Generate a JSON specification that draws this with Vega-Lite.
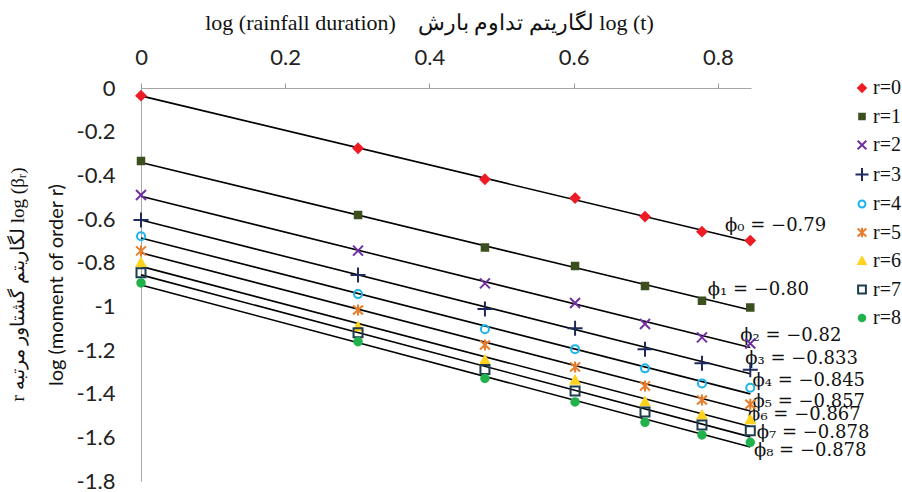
{
  "$schema": "https://vega.github.io/schema/vega-lite/v6.json",
  "width": 610,
  "height": 393,
  "autosize": {"type": "none"},
  "padding": {"left": 141, "top": 88, "right": 151, "bottom": 11},
  "background": "white",
  "title": {
    "text": "r  لگاریتم گشتاور مرتبه  log (βᵣ)",
    "orient": "left",
    "anchor": "middle",
    "font": "Liberation Serif",
    "fontSize": 19,
    "fontWeight": "normal",
    "color": "#111",
    "offset": 8,
    "dy": -10
  },
  "datasets": {
    "pts": [
      {"r": "r=0", "x": 0, "y": -0.035}, {"r": "r=0", "x": 0.301, "y": -0.276}, {"r": "r=0", "x": 0.477, "y": -0.418}, {"r": "r=0", "x": 0.602, "y": -0.504}, {"r": "r=0", "x": 0.699, "y": -0.589}, {"r": "r=0", "x": 0.778, "y": -0.658}, {"r": "r=0", "x": 0.845, "y": -0.699},
      {"r": "r=1", "x": 0, "y": -0.334}, {"r": "r=1", "x": 0.301, "y": -0.582}, {"r": "r=1", "x": 0.477, "y": -0.73}, {"r": "r=1", "x": 0.602, "y": -0.815}, {"r": "r=1", "x": 0.699, "y": -0.907}, {"r": "r=1", "x": 0.778, "y": -0.974}, {"r": "r=1", "x": 0.845, "y": -1.005},
      {"r": "r=2", "x": 0, "y": -0.49}, {"r": "r=2", "x": 0.301, "y": -0.745}, {"r": "r=2", "x": 0.477, "y": -0.895}, {"r": "r=2", "x": 0.602, "y": -0.985}, {"r": "r=2", "x": 0.699, "y": -1.081}, {"r": "r=2", "x": 0.778, "y": -1.142}, {"r": "r=2", "x": 0.845, "y": -1.17},
      {"r": "r=3", "x": 0, "y": -0.605}, {"r": "r=3", "x": 0.301, "y": -0.857}, {"r": "r=3", "x": 0.477, "y": -1.012}, {"r": "r=3", "x": 0.602, "y": -1.1}, {"r": "r=3", "x": 0.699, "y": -1.197}, {"r": "r=3", "x": 0.778, "y": -1.261}, {"r": "r=3", "x": 0.845, "y": -1.29},
      {"r": "r=4", "x": 0, "y": -0.679}, {"r": "r=4", "x": 0.301, "y": -0.944}, {"r": "r=4", "x": 0.477, "y": -1.105}, {"r": "r=4", "x": 0.602, "y": -1.196}, {"r": "r=4", "x": 0.699, "y": -1.284}, {"r": "r=4", "x": 0.778, "y": -1.353}, {"r": "r=4", "x": 0.845, "y": -1.373},
      {"r": "r=5", "x": 0, "y": -0.746}, {"r": "r=5", "x": 0.301, "y": -1.017}, {"r": "r=5", "x": 0.477, "y": -1.177}, {"r": "r=5", "x": 0.602, "y": -1.278}, {"r": "r=5", "x": 0.699, "y": -1.365}, {"r": "r=5", "x": 0.778, "y": -1.429}, {"r": "r=5", "x": 0.845, "y": -1.448},
      {"r": "r=6", "x": 0, "y": -0.8}, {"r": "r=6", "x": 0.301, "y": -1.093}, {"r": "r=6", "x": 0.477, "y": -1.246}, {"r": "r=6", "x": 0.602, "y": -1.338}, {"r": "r=6", "x": 0.699, "y": -1.437}, {"r": "r=6", "x": 0.778, "y": -1.498}, {"r": "r=6", "x": 0.845, "y": -1.52},
      {"r": "r=7", "x": 0, "y": -0.846}, {"r": "r=7", "x": 0.301, "y": -1.121}, {"r": "r=7", "x": 0.477, "y": -1.289}, {"r": "r=7", "x": 0.602, "y": -1.388}, {"r": "r=7", "x": 0.699, "y": -1.484}, {"r": "r=7", "x": 0.778, "y": -1.544}, {"r": "r=7", "x": 0.845, "y": -1.57},
      {"r": "r=8", "x": 0, "y": -0.893}, {"r": "r=8", "x": 0.301, "y": -1.162}, {"r": "r=8", "x": 0.477, "y": -1.33}, {"r": "r=8", "x": 0.602, "y": -1.438}, {"r": "r=8", "x": 0.699, "y": -1.531}, {"r": "r=8", "x": 0.778, "y": -1.589}, {"r": "r=8", "x": 0.845, "y": -1.623}
    ],
    "fit": [
      {"r": "r=0", "x": 0, "y": -0.036}, {"r": "r=0", "x": 0.845, "y": -0.704},
      {"r": "r=1", "x": 0, "y": -0.341}, {"r": "r=1", "x": 0.845, "y": -1.017},
      {"r": "r=2", "x": 0, "y": -0.496}, {"r": "r=2", "x": 0.845, "y": -1.189},
      {"r": "r=3", "x": 0, "y": -0.605}, {"r": "r=3", "x": 0.845, "y": -1.309},
      {"r": "r=4", "x": 0, "y": -0.687}, {"r": "r=4", "x": 0.845, "y": -1.401},
      {"r": "r=5", "x": 0, "y": -0.755}, {"r": "r=5", "x": 0.845, "y": -1.479},
      {"r": "r=6", "x": 0, "y": -0.817}, {"r": "r=6", "x": 0.845, "y": -1.55},
      {"r": "r=7", "x": 0, "y": -0.856}, {"r": "r=7", "x": 0.845, "y": -1.598},
      {"r": "r=8", "x": 0, "y": -0.902}, {"r": "r=8", "x": 0.845, "y": -1.644}
    ],
    "lab": [
      {"label": "ϕ₀ = −0.79", "x": 0.81, "y": -0.632},
      {"label": "ϕ₁ = −0.80", "x": 0.786, "y": -0.925},
      {"label": "ϕ₂ = −0.82", "x": 0.831, "y": -1.136},
      {"label": "ϕ₃ = −0.833", "x": 0.838, "y": -1.241},
      {"label": "ϕ₄ = −0.845", "x": 0.848, "y": -1.342},
      {"label": "ϕ₅ = −0.857", "x": 0.848, "y": -1.438},
      {"label": "ϕ₆ = −0.867", "x": 0.842, "y": -1.498},
      {"label": "ϕ₇ = −0.878", "x": 0.854, "y": -1.58},
      {"label": "ϕ₈ = −0.878", "x": 0.85, "y": -1.663}
    ]
  },
  "encoding": {
    "x": {
      "field": "x",
      "type": "quantitative",
      "scale": {"domain": [0, 0.846], "nice": false, "zero": false},
      "axis": {
        "orient": "top",
        "values": [0, 0.2, 0.4, 0.6, 0.8],
        "format": "~g",
        "title": "log (rainfall duration)\u00a0\u00a0\u00a0 لگاریتم تداوم بارش log (t)",
        "titleFont": "Liberation Serif",
        "titleFontSize": 22,
        "titleFontWeight": "normal",
        "titleColor": "#111",
        "titleX": 288,
        "titleY": -59,
        "titleAlign": "center",
        "titleBaseline": "alphabetic",
        "labelFont": "Lato",
        "labelFontSize": 22,
        "labelColor": "#222",
        "labelPadding": 14,
        "tickSize": 5,
        "tickColor": "#999",
        "domainColor": "#a6a6a6",
        "labelFlush": false,
        "labelOverlap": false
      }
    },
    "y": {
      "field": "y",
      "type": "quantitative",
      "scale": {"domain": [-1.8, 0], "nice": false, "zero": false},
      "axis": {
        "values": [0, -0.2, -0.4, -0.6, -0.8, -1, -1.2, -1.4, -1.6, -1.8],
        "labelExpr": "datum.value == 0 ? '0' : '-' + format(-datum.value, '~g')",
        "title": "log (moment of order r)",
        "titleFont": "Lato",
        "titleFontSize": 20,
        "titleFontWeight": "normal",
        "titleColor": "#111",
        "titlePadding": 10,
        "labelFont": "Lato",
        "labelFontSize": 22,
        "labelColor": "#222",
        "labelPadding": 26,
        "ticks": false,
        "domainColor": "#a6a6a6",
        "labelFlush": false,
        "labelOverlap": false
      }
    }
  },
  "layer": [
    {
      "data": {"name": "lab"},
      "mark": {"type": "text", "align": "left", "baseline": "middle", "font": "DejaVu Serif", "fontSize": 18, "color": "#111"},
      "encoding": {"text": {"field": "label"}}
    },
    {
      "data": {"name": "fit"},
      "mark": {"type": "line", "color": "black", "strokeWidth": 1.6},
      "encoding": {"detail": {"field": "r"}}
    },
    {
      "data": {"name": "pts"},
      "mark": {"type": "point", "size": 100, "strokeWidth": 2, "opacity": 1},
      "encoding": {
        "shape": {
          "field": "r", "type": "nominal",
          "scale": {"range": [
            "M0,-0.9L0.9,0L0,0.9L-0.9,0Z",
            "M-0.65,-0.65H0.65V0.65H-0.65Z",
            "M-1,-1L1,1M-1,1L1,-1",
            "M-1.5,0L1.5,0M0,-1.5L0,1.5",
            "M0.8,0A0.8,0.8,0,1,1,-0.8,0A0.8,0.8,0,1,1,0.8,0Z",
            "M-1,-0.9L1,0.9M-1,0.9L1,-0.9M0,-1.1L0,1.1",
            "M0,-0.85L0.85,0.7L-0.85,0.7Z",
            "M-0.9,-0.9H0.9V0.9H-0.9Z",
            "M0.75,0A0.75,0.75,0,1,1,-0.75,0A0.75,0.75,0,1,1,0.75,0Z"
          ]}
        },
        "fill": {
          "field": "r", "type": "nominal",
          "scale": {"range": ["#ee1c25", "#3c4f1e", "transparent", "transparent", "transparent", "transparent", "#ffd21e", "transparent", "#22b24c"]}
        },
        "stroke": {
          "field": "r", "type": "nominal",
          "scale": {"range": ["#ee1c25", "#3c4f1e", "#7030a0", "#1f2a5c", "#1cb4e8", "#e87c2a", "#ffd21e", "#1f3c4f", "#22b24c"]}
        }
      }
    }
  ],
  "config": {
    "view": {"stroke": null},
    "axis": {"grid": false},
    "legend": {
      "orient": "none",
      "legendX": 711,
      "legendY": -10,
      "title": null,
      "labelFont": "Liberation Serif",
      "labelFontSize": 20,
      "labelColor": "#111",
      "labelOffset": 1,
      "rowPadding": 8.5,
      "symbolSize": 75,
      "symbolStrokeWidth": 2,
      "padding": 0
    }
  }
}
